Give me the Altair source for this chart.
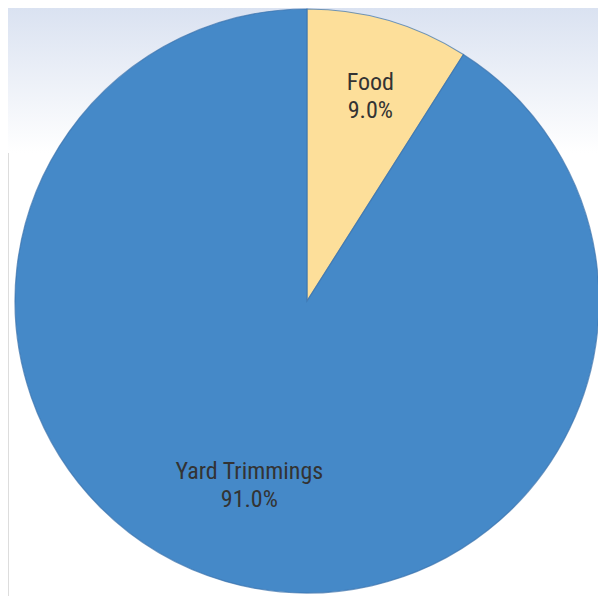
import altair as alt
import pandas as pd

categories = ["Food", "Yard Trimmings"]
shares = [9.0, 91.0]
colors = ["#FDDF9A", "#4589C8"]

df = pd.DataFrame({"category": categories, "share": shares})
df["label"] = [f"{c}\n{v:.1f}%" for c, v in zip(categories, shares)]

W, H = 590, 588
cx, cy = 299, 293
FONT = "Liberation Sans Narrow, Roboto Condensed, Open Sans, sans-serif"

bg = alt.Chart(pd.DataFrame({"a": [0]})).mark_rect(
    fill=alt.Gradient(
        gradient="linear",
        stops=[alt.GradientStop(color="#DAE2F1", offset=0),
               alt.GradientStop(color="#FFFFFF", offset=1)],
        x1=0, x2=0, y1=0, y2=1,
    )
).encode(x=alt.value(0), x2=alt.value(W), y=alt.value(0), y2=alt.value(145))

base = alt.Chart(df).encode(
    theta=alt.Theta("share:Q", stack=True),
    order=alt.Order("category:N", sort="ascending"),
)

pie = base.mark_arc(radius=292, stroke="#3B72AC", strokeWidth=1.2, strokeOpacity=0.7).encode(
    color=alt.Color("category:N", scale=alt.Scale(domain=categories, range=colors), legend=None),
    x=alt.value(cx), y=alt.value(cy),
)

food_lbl = base.mark_text(
    radius=227, font=FONT, fontSize=24, color="#333333", lineBreak="\n", lineHeight=28,
).encode(
    text=alt.condition(alt.datum.category == "Food", "label:N", alt.value("")),
    x=alt.value(cx), y=alt.value(cy),
)

yard_lbl = base.mark_text(
    radius=178, font=FONT, fontSize=24, color="#333333", lineBreak="\n", lineHeight=28, dx=-8,
).encode(
    text=alt.condition(alt.datum.category == "Yard Trimmings", "label:N", alt.value("")),
    x=alt.value(cx), y=alt.value(cy),
)

chart = alt.layer(bg, pie, food_lbl, yard_lbl).properties(
    width=W, height=H, padding=0, autosize="none",
).configure_view(strokeWidth=0, strokeOpacity=0).configure(background="white")

chart.save("out.html", embed_options={"renderer": "svg", "actions": False})
